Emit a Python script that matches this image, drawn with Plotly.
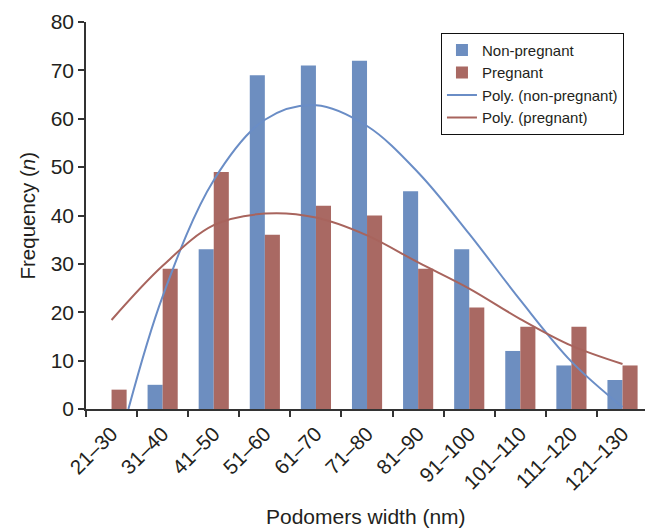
import plotly.graph_objects as go

# Podomer width bins and frequency counts
bins = ["21–30", "31–40", "41–50", "51–60", "61–70", "71–80",
        "81–90", "91–100", "101–110", "111–120", "121–130"]
non_pregnant = [0, 5, 33, 69, 71, 72, 45, 33, 12, 9, 6]
pregnant = [4, 29, 49, 36, 42, 40, 29, 21, 17, 17, 9]
y_ticks = [0, 10, 20, 30, 40, 50, 60, 70, 80]

# Polynomial trendline values, sampled along the bin index
trend_np_x = [0.33, 1, 2, 3, 4, 5, 6, 7, 8, 9, 10]
trend_np_y = [0.0, 23.3, 47.3, 59.8, 62.8, 58.5, 48.9, 36.2, 22.5, 9.8, 0.4]
trend_p_x = [0, 1, 2, 3, 4, 5, 6, 7, 8, 9, 10]
trend_p_y = [18.4, 29.6, 38.0, 40.4, 39.6, 35.9, 30.3, 24.9, 18.6, 13.1, 9.3]

BLUE = "#6D8EC0"
RED = "#A96963"
LINE_BLUE = "#6A8DC6"
LINE_RED = "#A8645D"
TXT = "#231F20"

fig = go.Figure()
fig.add_trace(go.Bar(x=bins, y=non_pregnant, name="Non-pregnant",
                     marker=dict(color=BLUE, line=dict(width=0))))
fig.add_trace(go.Bar(x=bins, y=pregnant, name="Pregnant",
                     marker=dict(color=RED, line=dict(width=0))))
fig.add_trace(go.Scatter(x=trend_np_x, y=trend_np_y, mode="lines", xaxis="x2",
                         name="Poly. (non-pregnant)",
                         line=dict(color=LINE_BLUE, width=2, shape="spline")))
fig.add_trace(go.Scatter(x=trend_p_x, y=trend_p_y, mode="lines", xaxis="x2",
                         name="Poly. (pregnant)",
                         line=dict(color=LINE_RED, width=2, shape="spline")))

x_range = [-0.5, 10.44]
fig.update_layout(
    width=645, height=529,
    margin=dict(l=86, r=0, t=22, b=120),
    paper_bgcolor="white", plot_bgcolor="white",
    font=dict(family="Liberation Sans, Arial, sans-serif", color=TXT, size=19),
    barmode="group", bargap=0.41, bargroupgap=0,
    showlegend=True,
    legend=dict(x=0.635, y=0.972, xanchor="left", yanchor="top",
                bordercolor="#111111", borderwidth=1, bgcolor="white",
                font=dict(size=15, color=TXT), tracegroupgap=0),
    xaxis=dict(type="category", range=x_range, tickson="boundaries",
               tickangle=-45, ticks="outside", ticklen=6, tickwidth=1.5,
               tickcolor="#333333", showline=True, linecolor="#333333",
               linewidth=1.5, showgrid=False, zeroline=False,
               ticklabelstandoff=3,
               tickfont=dict(size=20.5, color=TXT)),
    xaxis2=dict(overlaying="x", range=x_range, visible=False),
    yaxis=dict(range=[0, 80], tickvals=y_ticks, ticks="outside", ticklen=6,
               tickwidth=1.5, tickcolor="#333333", showline=True,
               linecolor="#333333", linewidth=1.5, showgrid=False,
               zeroline=False, tickfont=dict(size=21, color=TXT)),
    annotations=[
        dict(text="Podomers width (nm)", xref="paper", yref="paper",
             x=0.5, y=-0.279, xanchor="center", yanchor="middle",
             showarrow=False, font=dict(size=21, color=TXT)),
        dict(text="Frequency (<i>n</i>)", xref="paper", yref="paper",
             x=-0.1055, y=0.5, xanchor="center", yanchor="middle",
             textangle=-90, showarrow=False, font=dict(size=20.5, color=TXT)),
    ],
)

fig.write_html("out.html")
